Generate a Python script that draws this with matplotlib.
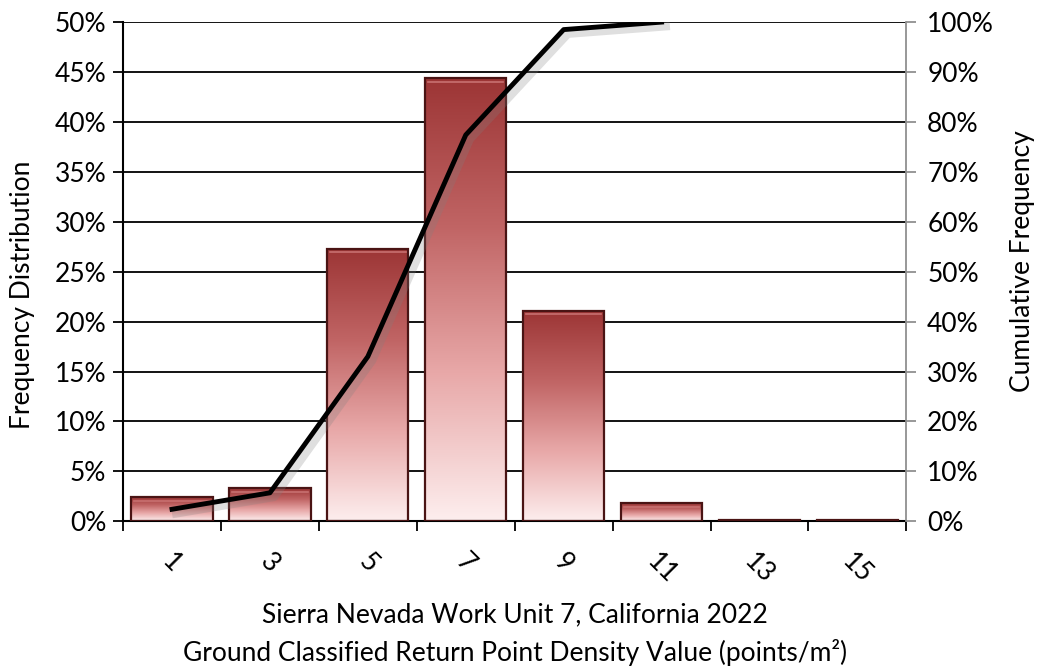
import numpy as np
import matplotlib
matplotlib.use("Agg")
import matplotlib.pyplot as plt
import matplotlib.patheffects as pe
from matplotlib.patches import Rectangle
from matplotlib.colors import LinearSegmentedColormap
from matplotlib.ticker import PercentFormatter

plt.rcParams['font.family'] = ['Lato', 'DejaVu Sans']

# data
categories = ['1', '3', '5', '7', '9', '11', '13', '15']
frequency = [2.4, 3.3, 27.3, 44.4, 21.1, 1.8, 0.15, 0.1]
cumulative = [2.4, 5.7, 33.0, 77.4, 98.5, 100.0]

fig = plt.figure(figsize=(10.43, 6.70), dpi=100)
ax = fig.add_axes([0.118, 0.222, 0.751, 0.745])
ax2 = ax.twinx()

x = np.arange(len(categories))
bar_w = 0.83

grad = LinearSegmentedColormap.from_list('rd', ['#fdeeee', '#e8a8a8', '#c06464', '#9c3535'])
g = np.linspace(0, 1, 256).reshape(-1, 1)

ax.set_xlim(-0.5, len(categories) - 0.5)
ax.set_ylim(0, 50)

for xi, v in zip(x, frequency):
    rect = Rectangle((xi - bar_w / 2, 0), bar_w, v, facecolor='none',
                     edgecolor='#4a1414', linewidth=1.6, zorder=3)
    im = ax.imshow(g, cmap=grad, aspect='auto', origin='lower',
                   extent=(xi - bar_w / 2, xi + bar_w / 2, 0, v), zorder=2)
    ax.add_patch(rect)
    im.set_clip_path(rect)
    # top highlight line for bevel look
    if v > 1:
        ax.plot([xi - bar_w / 2 + 0.03, xi + bar_w / 2 - 0.03], [v - 0.35, v - 0.35],
                color='#c87070', lw=1.2, zorder=3)

ax.set_xlim(-0.5, len(categories) - 0.5)
ax.set_ylim(0, 50)

ax.yaxis.set_major_locator(plt.MultipleLocator(5))
ax.yaxis.set_major_formatter(PercentFormatter(decimals=0))
ax.grid(axis='y', color='#000000', linewidth=1.3, zorder=0)
ax.set_axisbelow(True)

ax.set_xticks(x)
ax.set_xticklabels(categories, rotation=-45, ha='center', va='top', fontsize=19)
ax.set_xticks(np.arange(-0.5, len(categories)), minor=True)
ax.tick_params(axis='x', which='major', length=0, pad=20)
ax.tick_params(axis='x', which='minor', length=7, width=1.3, direction='out')
ax.tick_params(axis='y', labelsize=19, length=7, width=1.3, direction='out', pad=5)

for s in ['top']:
    ax.spines[s].set_visible(False)
    ax2.spines[s].set_visible(False)
ax.spines['left'].set_linewidth(1.5)
ax.spines['bottom'].set_linewidth(1.5)
ax.spines['right'].set_visible(False)
ax2.spines['left'].set_visible(False)
ax2.spines['bottom'].set_visible(False)
ax2.spines['right'].set_color('#909090')
ax2.spines['right'].set_linewidth(1.3)

ax2.set_ylim(0, 100)
ax2.yaxis.set_major_locator(plt.MultipleLocator(10))
ax2.yaxis.set_major_formatter(PercentFormatter(decimals=0))
ax2.tick_params(axis='y', labelsize=19, length=7, width=1.3, color='#909090', direction='out', pad=8)

ax2.plot(x[:len(cumulative)], cumulative, color='black', lw=3.5, zorder=5,
         path_effects=[pe.SimpleLineShadow(offset=(3, -3), shadow_color='gray', alpha=0.25, linewidth=6),
                       pe.Normal()])

ax.set_ylabel('Frequency Distribution', fontsize=19, va='center')
ax.yaxis.set_label_coords(-0.129, 0.453)
ax2.set_ylabel('Cumulative Frequency', fontsize=19, va='center')
ax2.yaxis.set_label_coords(1.148, 0.521)
ax.set_xlabel('Sierra Nevada Work Unit 7, California 2022\nGround Classified Return Point Density Value (points/m²)',
              fontsize=19, labelpad=10, linespacing=1.55)

fig.savefig('out.png', dpi=100)
